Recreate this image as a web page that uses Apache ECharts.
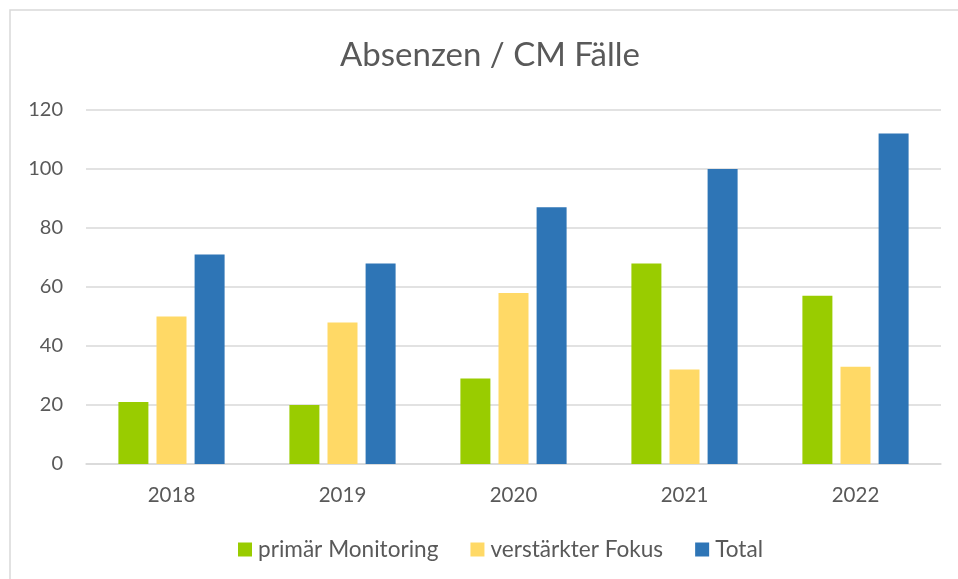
<!DOCTYPE html>
<html>
<head>
<meta charset="utf-8">
<script src="https://cdn.jsdelivr.net/npm/echarts@6/dist/echarts.min.js"></script>
<style>html,body{margin:0;padding:0;background:#fff}#c{width:958px;height:579px}</style>
</head>
<body>
<div id="c"></div>
<script>
const categories = ['2018', '2019', '2020', '2021', '2022'];
const primaerMonitoring = [21, 20, 29, 68, 57];
const verstaerkterFokus = [50, 48, 58, 32, 33];
const total = [71, 68, 87, 100, 112];
const seriesNames = ['primär Monitoring', 'verstärkter Fokus', 'Total'];

const FONT = 'Lato';
const TXT = '#595959';
const chart = echarts.init(document.getElementById('c'));
chart.setOption({
  animation: false,
  backgroundColor: '#fff',
  title: {
    text: 'Absenzen / CM Fälle',
    left: 485, top: 34, textAlign: 'center',
    textStyle: { fontFamily: FONT, fontSize: 33, fontWeight: 'normal', color: TXT }
  },
  graphic: [{
    type: 'rect', shape: { x: 10, y: 10, width: 970, height: 600 },
    style: { fill: 'none', stroke: '#d9d9d9', lineWidth: 1.5 }, silent: true, z: -1
  }],
  legend: {
    top: 533, left: 233,
    itemWidth: 14, itemHeight: 14, itemGap: 32,
    icon: 'rect',
    textStyle: { fontFamily: FONT, fontSize: 22.6, color: TXT, padding: [0, 0, 0, 1] },
    data: seriesNames
  },
  grid: { left: 86, right: 17, top: 110, bottom: 115 },
  xAxis: {
    type: 'category', data: categories,
    axisLine: { lineStyle: { color: '#d9d9d9', width: 1.5 } },
    axisTick: { show: false },
    axisLabel: { fontFamily: FONT, fontSize: 20.5, color: TXT, margin: 21 }
  },
  yAxis: {
    type: 'value', min: 0, max: 120, interval: 20,
    axisLine: { show: false }, axisTick: { show: false },
    splitLine: { lineStyle: { color: '#d9d9d9', width: 1.5 } },
    axisLabel: { fontFamily: FONT, fontSize: 20, color: TXT, margin: 23 }
  },
  series: [
    { name: seriesNames[0], type: 'bar', data: primaerMonitoring, barWidth: 30, barGap: '27%', itemStyle: { color: '#99CC00' } },
    { name: seriesNames[1], type: 'bar', data: verstaerkterFokus, barWidth: 30, barGap: '27%', itemStyle: { color: '#FFD966' } },
    { name: seriesNames[2], type: 'bar', data: total, barWidth: 30, barGap: '27%', itemStyle: { color: '#2E75B6' } }
  ]
});
</script>
</body>
</html>
